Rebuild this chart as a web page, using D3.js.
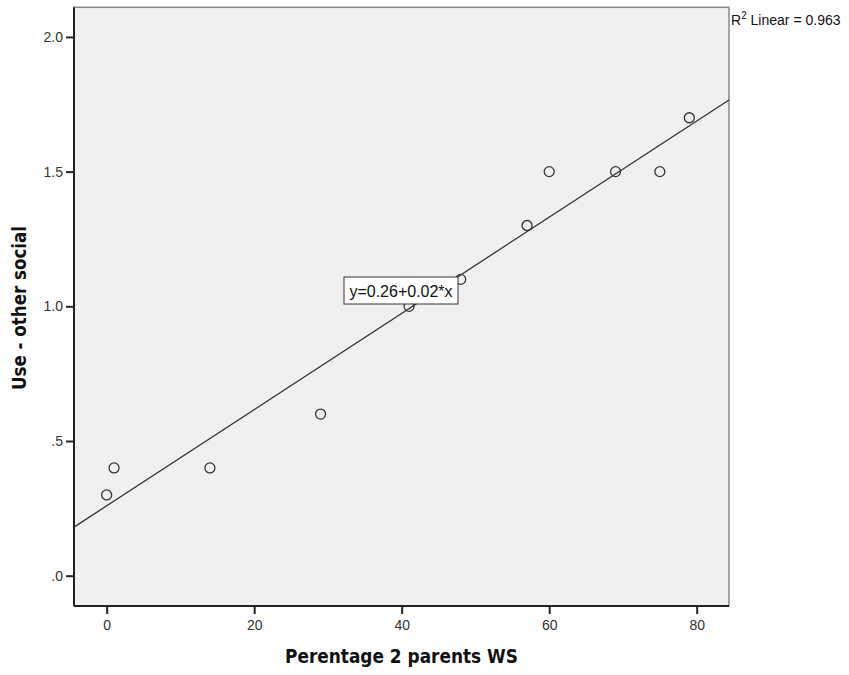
<!DOCTYPE html>
<html><head><meta charset="utf-8">
<script src="https://cdn.jsdelivr.net/npm/d3@7"></script>
<style>body{margin:0;background:#fff}</style>
</head><body>
<script>
const xValues = [0, 1, 14, 29, 41, 48, 57, 60, 69, 75, 79];
const yValues = [0.3, 0.4, 0.4, 0.6, 1.0, 1.1, 1.3, 1.5, 1.5, 1.5, 1.7];
const xTicks = [0, 20, 40, 60, 80];
const yTicks = [0, 0.5, 1.0, 1.5, 2.0];
const yTickLabels = [".0", ".5", "1.0", "1.5", "2.0"];
const xTitle = "Perentage 2 parents WS";
const yTitle = "Use - other social";
const equationText = "y=0.26+0.02*x";
const r2Text = "0.963";

const W = 849, H = 675;
const sans = "Liberation Sans, Arial, sans-serif";
const titleFont = "DejaVu Sans, Verdana, sans-serif";
const svg = d3.select("body").append("svg").attr("width", W).attr("height", H);
const x = d3.scaleLinear().domain([-4.43, 84.38]).range([74, 729]);
const y = d3.scaleLinear().domain([-0.1125, 2.11]).range([606, 7.3]);

svg.append("rect").attr("x", 74).attr("y", 7.3).attr("width", 655).attr("height", 598.7)
  .attr("fill", "#f0f0f0").attr("stroke", "#888").attr("stroke-width", 1.5);

// regression fit from data
const mx = d3.mean(xValues), my = d3.mean(yValues);
const b1 = d3.sum(xValues.map((v,i)=>(v-mx)*(yValues[i]-my))) / d3.sum(xValues.map(v=>(v-mx)*(v-mx)));
const b0 = my - b1*mx;
const [d0, d1] = x.domain();
svg.append("line").attr("x1", x(d0)).attr("y1", y(b0+b1*d0)).attr("x2", x(d1)).attr("y2", y(b0+b1*d1))
  .attr("stroke", "#333").attr("stroke-width", 1.3);

svg.append("g").selectAll("circle").data(xValues).join("circle")
  .attr("cx", d=>x(d)).attr("cy", (d,i)=>y(yValues[i])).attr("r", 5)
  .attr("fill", "none").attr("stroke", "#333").attr("stroke-width", 1.3);

// equation box
const eq = svg.append("g");
eq.append("rect").attr("x", 344).attr("y", 277).attr("width", 114).attr("height", 27)
  .attr("fill", "#fff").attr("stroke", "#333").attr("stroke-width", 1);
eq.append("text").attr("x", 401).attr("y", 297).attr("text-anchor", "middle")
  .attr("font-family", sans).attr("font-size", 16).attr("fill", "#111")
  .text(equationText);

// axes
const xAxis = d3.axisBottom(x).tickValues(xTicks).tickSize(8).tickPadding(6).tickFormat(d3.format("d"));
const gx = svg.append("g").attr("transform", "translate(0,606)").call(xAxis);
const yAxis = d3.axisLeft(y).tickValues(yTicks).tickSize(8).tickPadding(3).tickFormat((d,i)=>yTickLabels[i]);
const gy = svg.append("g").attr("transform", "translate(74,0)").call(yAxis);
[gx, gy].forEach(g => {
  g.select(".domain").attr("stroke", "#222").attr("stroke-width", 2);
  g.selectAll(".tick line").attr("stroke", "#222").attr("stroke-width", 2);
  g.selectAll("text").attr("font-family", sans).attr("font-size", 14).attr("fill", "#333");
});
gy.select(".domain").attr("d", "M0,606V7.3");
gx.select(".domain").attr("d", "M74,0H729");

// titles
svg.append("text").attr("x", 401.5).attr("y", 663).attr("text-anchor", "middle")
  .attr("font-family", titleFont).attr("font-weight", "bold").attr("font-size", 19)
  .attr("textLength", 233).attr("lengthAdjust", "spacingAndGlyphs")
  .attr("fill", "#111").text(xTitle);
svg.append("text").attr("transform", "translate(26,308) rotate(-90)").attr("text-anchor", "middle")
  .attr("font-family", titleFont).attr("font-weight", "bold").attr("font-size", 19)
  .attr("textLength", 164).attr("lengthAdjust", "spacingAndGlyphs")
  .attr("fill", "#111").text(yTitle);

// R2 label
const r2 = svg.append("text").attr("x", 731).attr("y", 25)
  .attr("font-family", sans).attr("font-size", 14).attr("fill", "#111");
r2.append("tspan").text("R");
r2.append("tspan").attr("dy", -6).attr("font-size", 10).text("2");
r2.append("tspan").attr("dy", 6).text(" Linear = " + r2Text);
</script>
</body></html>
